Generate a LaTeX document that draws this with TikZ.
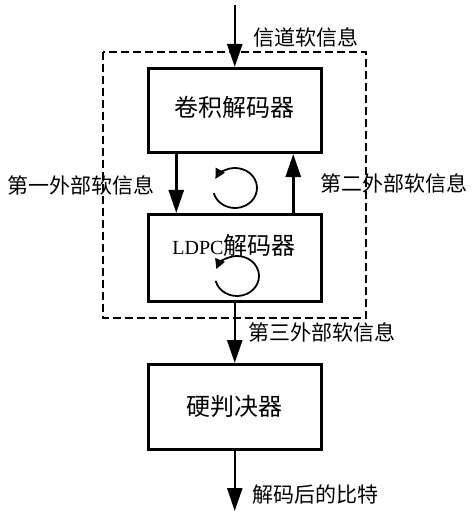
\documentclass[tikz,border=0pt]{standalone}
\usepackage{fontspec}
\setmainfont{Liberation Serif}
\newfontfamily\cjk{Noto Sans CJK SC}
\usetikzlibrary{arrows.meta}

\begin{document}
\begin{tikzpicture}[x=1bp, y=1bp, >={Triangle[length=23bp,width=15bp]},
    box/.style={draw, line width=3bp, minimum width=173bp, inner sep=0pt},
    lbl/.style={font=\fontsize{21bp}{25bp}\selectfont\cjk, inner sep=0pt},
    big/.style={font=\fontsize{24bp}{28bp}\selectfont\cjk, inner sep=0pt},
    flow/.style={->, line width=2.5bp},
    loop/.style={-{Triangle[length=10bp,width=10bp]}, line width=1.8bp}]
    \useasboundingbox (0,0) rectangle (474,-517);

    % outer dashed frame
    \draw[line width=2bp, dash pattern=on 8bp off 4bp] (102.5,-52) rectangle (366,-318);

    \node[box, minimum height=84bp] at (234.75,-110.5) (jm) {};
    \node[box, minimum height=87bp] at (234.75,-258) (ld) {};
    \node[box, minimum height=85bp] at (234.75,-407) (pj) {};

    \node[big] at (234,-107) (t jm) {卷积解码器};
    \node[big] at (234,-245) (t ld) {{\fontsize{20bp}{24bp}\selectfont\rmfamily LDPC}解码器};
    \node[big] at (234,-406) (t pj) {硬判决器};

    \coordinate (in) at (234.75,-5);
    \coordinate (out) at (234.75,-511);

    \draw[flow] (in) -- (jm.north);
    \draw[flow] ([xshift=-58.5bp]jm.south) -- ([xshift=-58.5bp]ld.north);
    \draw[flow] ([xshift=58.5bp]ld.north) -- ([xshift=58.5bp]jm.south);
    \draw[flow] (ld.south) -- (pj.north);
    \draw[flow] (pj.south) -- (out);

    % iteration loops
    \coordinate (c jm) at (235,-188);
    \coordinate (c ld) at (237,-276);
    \draw[loop] (c jm) ++(195:22bp and 20bp) arc[start angle=195, end angle=513, x radius=22bp, y radius=20bp];
    \draw[loop] (c ld) ++(194:22bp and 20bp) arc[start angle=194, end angle=520, x radius=22bp, y radius=20bp];

    \node[lbl, anchor=west] at (253,-37) (xd) {信道软信息};
    \node[lbl, anchor=west] at (7,-185) (w1) {第一外部软信息};
    \node[lbl, anchor=west] at (320,-183) (w2) {第二外部软信息};
    \node[lbl, anchor=west] at (248,-332) (w3) {第三外部软信息};
    \node[lbl, anchor=west] at (252,-495) (bt) {解码后的比特};
\end{tikzpicture}
\end{document}
